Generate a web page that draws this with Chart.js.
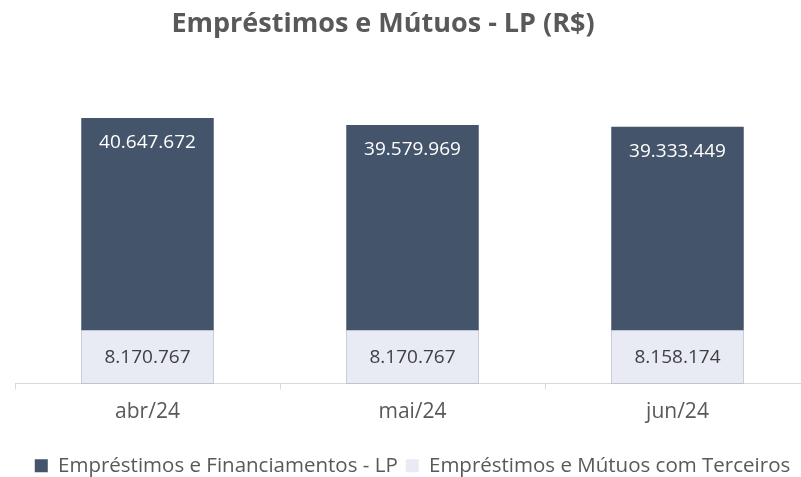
<!DOCTYPE html>
<html>
<head>
<meta charset="utf-8">
<script src="https://cdn.jsdelivr.net/npm/chart.js@4.4.0/dist/chart.umd.min.js"></script>
<style>
  html, body { margin: 0; padding: 0; overflow: hidden; background: #fff; }
  #wrap { width: 810px; height: 486px; }
</style>
</head>
<body>
<div id="wrap"><canvas id="chart" width="810" height="486"></canvas></div>
<script>
const months = ["abr/24", "mai/24", "jun/24"];
const financiamentos = [40647672, 39579969, 39333449];
const terceiros = [8170767, 8170767, 8158174];
const seriesNames = ["Empréstimos e Financiamentos - LP", "Empréstimos e Mútuos com Terceiros"];
const chartTitle = "Empréstimos e Mútuos - LP (R$)";

const FONT = "'Open Sans', sans-serif";

// 40647672 -> "40.647.672"
const fmt = v => String(Math.round(v)).replace(/\B(?=(\d{3})+(?!\d))/g, ".");

// title drawn by hand because it is not centred on the canvas
const titlePlugin = {
    id: "fixedTitle",
    afterDraw(chart) {
        const ctx = chart.ctx;
        ctx.save();
        ctx.font = "bold 27px " + FONT;
        ctx.fillStyle = "#595959";
        ctx.textAlign = "center";
        ctx.textBaseline = "alphabetic";
        ctx.fillText(chartTitle, 383, 32);
        ctx.restore();
    }
};

// value labels inside the bars
const valueLabels = {
    id: "valueLabels",
    afterDatasetsDraw(chart) {
        const ctx = chart.ctx;
        ctx.save();
        ctx.font = "19px " + FONT;
        ctx.textAlign = "center";
        ctx.textBaseline = "middle";
        chart.data.datasets.forEach((ds, i) => {
            const meta = chart.getDatasetMeta(i);
            meta.data.forEach((bar, j) => {
                if (i === 0) {
                    ctx.fillStyle = "#ffffff";
                    ctx.fillText(fmt(ds.data[j]), bar.x, bar.y + 25);
                } else {
                    ctx.fillStyle = "#404040";
                    ctx.fillText(fmt(ds.data[j]), bar.x, (bar.y + bar.base) / 2 + 1);
                }
            });
        });
        ctx.restore();
    }
};

new Chart(document.getElementById("chart"), {
    type: "bar",
    data: {
        labels: months,
        datasets: [
            {
                label: seriesNames[0],
                data: financiamentos,
                backgroundColor: "#44546a",
                order: 1
            },
            {
                label: seriesNames[1],
                data: terceiros,
                backgroundColor: "#e8eaf4",
                order: 0
            }
        ]
    },
    options: {
        responsive: false,
        animation: false,
        events: [],
        layout: { padding: { left: 15, right: 0, top: 57, bottom: 0 } },
        datasets: {
            bar: { categoryPercentage: 1, barPercentage: 0.5 }
        },
        scales: {
            x: {
                stacked: true,
                grid: {
                    offset: true,
                    drawOnChartArea: false,
                    drawTicks: true,
                    tickLength: 6,
                    color: "#d9d9d9"
                },
                border: { display: true, color: "#d9d9d9" },
                ticks: { padding: 10, color: "#595959", font: { family: FONT, size: 21 } },
                afterFit: scale => { scale.height = 64; }
            },
            y: {
                display: false,
                stacked: false,
                min: 0,
                max: 50000000
            }
        },
        plugins: {
            title: { display: false },
            tooltip: { enabled: false },
            legend: {
                position: "bottom",
                labels: {
                    boxWidth: 13,
                    boxHeight: 13,
                    padding: 8,
                    color: "#595959",
                    font: { family: FONT, size: 20.5 },
                    sort: (a, b) => a.datasetIndex - b.datasetIndex
                }
            }
        }
    },
    plugins: [titlePlugin, valueLabels]
});
</script>
</body>
</html>
